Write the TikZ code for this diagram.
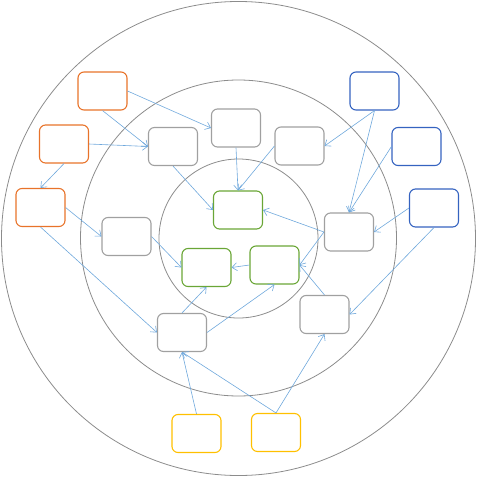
\documentclass[tikz,border=0pt]{standalone}
\usetikzlibrary{arrows.meta}
\definecolor{cOr}{HTML}{E8732A}
\definecolor{cBl}{HTML}{3563C0}
\definecolor{cGr}{HTML}{6AA636}
\definecolor{cYe}{HTML}{FFC000}
\definecolor{cGy}{HTML}{A0A0A0}
\definecolor{cAr}{HTML}{6FA8DC}
\definecolor{cCi}{HTML}{8C8C8C}
\tikzset{
  box/.style={draw, rounded corners=6pt, minimum width=49pt, minimum height=38pt, inner sep=0pt, line width=1.1pt},
  obox/.style={box, draw=cOr},
  bbox/.style={box, draw=cBl},
  gbox/.style={box, draw=cGr},
  ybox/.style={box, draw=cYe},
  gybox/.style={box, draw=cGy},
  ring/.style={draw=cCi, line width=0.8pt},
  link/.style={draw=cAr, line width=0.6pt, -{Straight Barb[length=5pt,width=8pt,line width=0.6pt]}}
}
\begin{document}
\begin{tikzpicture}[x=1pt,y=-1pt]
\useasboundingbox (0,0) rectangle (477,477);
\draw[ring] (238.5,238.5) circle (237);
\draw[ring] (238.5,238) circle (158);
\draw[ring] (238.5,238.5) circle (79.5);
% orange
\node[obox] (O1) at (102.5,91) {};
\node[obox] (O2) at (64,144) {};
\node[obox] (O3) at (40.5,207.5) {};
% blue
\node[bbox] (B1) at (374.5,91) {};
\node[bbox] (B2) at (416.5,146.5) {};
\node[bbox] (B3) at (434,208) {};
% gray
\node[gybox] (G1) at (173,146.5) {};
\node[gybox] (G2) at (236,128) {};
\node[gybox] (G3) at (299.5,146) {};
\node[gybox] (G4) at (349,232) {};
\node[gybox] (G5) at (126.5,236.5) {};
\node[gybox] (G6) at (182,332.5) {};
\node[gybox] (G7) at (324.5,314.5) {};
% green
\node[gbox] (R1) at (238,210) {};
\node[gbox] (R2) at (206.5,267.5) {};
\node[gbox] (R3) at (274.5,265) {};
% yellow
\node[ybox] (Y1) at (196.5,433.5) {};
\node[ybox] (Y2) at (276,432.5) {};
% links
\draw[link] (O1.east) -- (G2.west);
\draw[link] (O1.south) -- (G1.west);
\draw[link] (O2.east) -- (G1.west);
\draw[link] (O2.south) -- (O3.north);
\draw[link] (O3.east) -- (G5.west);
\draw[link] (O3.south) -- (G6.west);
\draw[link] (G1.south) -- (R1.west);
\draw[link] (G2.south) -- (R1.north);
\draw[link] (G3.west) -- (R1.north);
\draw[link] (G5.east) -- (R2.west);
\draw[link] (B1.south) -- (G3.east);
\draw[link] (B1.south) -- (G4.north);
\draw[link] (B2.west) -- (G4.north);
\draw[link] (B3.west) -- (G4.east);
\draw[link] (B3.south) -- (G7.east);
\draw[link] (G4.west) -- (R1.east);
\draw[link] (G4.west) -- (R3.east);
\draw[link] (G7.north) -- (R3.east);
\draw[link] (R3.west) -- (R2.east);
\draw[link] (G6.north) -- (R2.south);
\draw[link] (G6.east) -- (R3.south);
\draw[link] (Y1.north) -- (G6.south);
\draw[link] (Y2.north) -- (G6.south);
\draw[link] (Y2.north) -- (G7.south);
\end{tikzpicture}
\end{document}
